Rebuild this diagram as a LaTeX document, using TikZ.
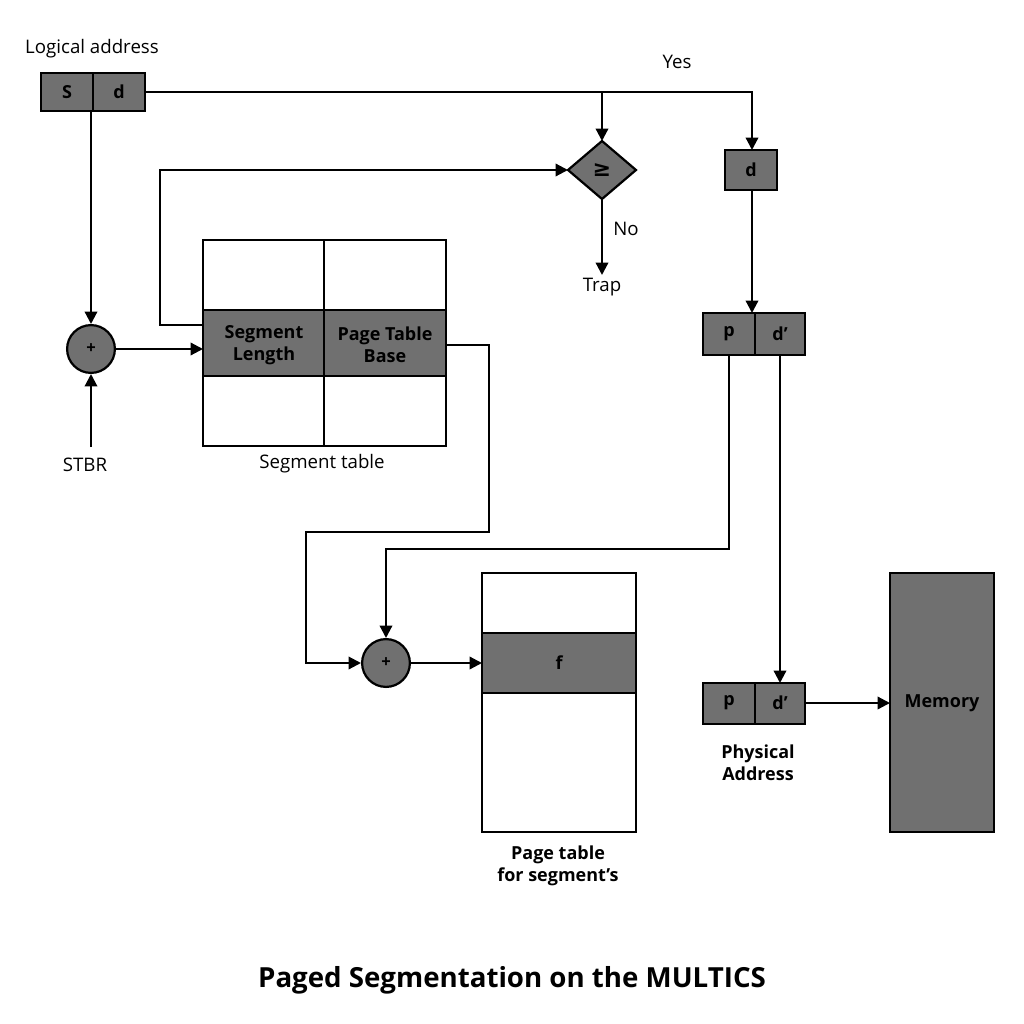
\documentclass[tikz,border=0pt]{standalone}
\usepackage{fontspec}
\setmainfont{Open Sans}
\newfontfamily\symfont{DejaVu Sans}
\usetikzlibrary{shapes.geometric,arrows.meta}
\begin{document}
\begin{tikzpicture}[x=0.0254cm,y=-0.0254cm,
  line width=1.6pt,
  g/.style={fill=black!56,draw=black,line width=1.6pt},
  cell/.style={draw=black,line width=1.6pt},
  arr/.style={-{Triangle[length=9pt,width=9pt]}},
  lbl/.style={font=\fontsize{13.5pt}{15pt}\selectfont},
  bl/.style={font=\fontsize{13pt}{16pt}\selectfont\bfseries,align=center}]
\useasboundingbox (0,0) rectangle (1024,1024);
% logical address
\node[lbl] (la) at (92,49) {Logical address};
\draw[g] (41,73) rectangle (93,111);
\draw[g] (93,73) rectangle (145,111);
\node[bl] (S) at (67,92) {S};
\node[bl] (d0) at (119,92) {d};
\coordinate (dR) at (145,92);
\coordinate (sB) at (91,111);
\node[lbl] (yes) at (677,62) {Yes};
% diamond
\coordinate (diaN) at (602,141);
\coordinate (diaS) at (602,199);
\coordinate (diaW) at (568,170);
\draw[g] (diaW)--(diaN)--(636,170)--(diaS)--cycle;
\node[font=\symfont\bfseries\fontsize{16pt}{18pt}\selectfont] (ge) at (602,170) {≥};
% d box
\draw[g] (725,150) rectangle (777,190);
\node[bl] (d1) at (751,170) {d};
\draw[arr] (dR) -- (752,92) -- (752,150);
\draw[arr] (602,92) -- (diaN);
% p d'
\draw[g] (703,313) rectangle (755,355);
\draw[g] (755,313) rectangle (805,355);
\node[bl] (p1) at (729,334) {p};
\node[bl] (dp1) at (780,334) {d’};
\draw[arr] (752,190) -- (752,313);
% trap
\draw[arr] (diaS) -- (602,275);
\node[lbl] (no) at (626,229) {No};
\node[lbl] (trap) at (602,287) {Trap};
% segment table
\draw[g] (203,310) rectangle (446,376);
\draw[cell] (203,240) rectangle (446,446);
\draw[cell] (324,240) -- (324,446);
\node[bl] (sl) at (264,345) {Segment\\Length};
\node[bl] (ptb) at (385,345) {Page Table\\Base};
\node[lbl] (stl) at (322,464) {Segment table};
\draw[arr] (203,325) -- (160,325) -- (160,170) -- (diaW);
% plus 1
\node[circle,g,minimum size=48pt*0.72,inner sep=0,font=\large\bfseries] (c1) at (91,349) {+};
\draw[arr] (sB) -- (c1.north);
\node[lbl] (stbr) at (85,465) {STBR};
\draw[arr] (91,447) -- (c1.south);
\draw[arr] (c1.east) -- (203,349);
% page table
\draw[cell] (482,573) rectangle (636,832);
\draw[g] (482,633) rectangle (636,693);
\node[bl] (f) at (559,663) {f};
\node[bl] (ptl) at (558,866) {Page table\\for segment’s};
% plus 2
\node[circle,g,minimum size=48pt*0.72,inner sep=0,font=\large\bfseries] (c2) at (386,663) {+};
\draw[arr] (446,345) -- (489,345) -- (489,532) -- (306,532) -- (306,663) -- (c2.west);
\draw[arr] (729,355) -- (729,549) -- (386,549) -- (c2.north);
\draw[arr] (c2.east) -- (482,663);
% physical address
\draw[g] (703,683) rectangle (755,724);
\draw[g] (755,683) rectangle (805,724);
\node[bl] (p2) at (729,703) {p};
\node[bl] (dp2) at (780,703) {d’};
\draw[arr] (780,355) -- (780,683);
\node[bl] (pa) at (758,763) {Physical\\Address};
% memory
\draw[g] (890,573) rectangle (994,832);
\node[bl] (mem) at (942,703) {Memory};
\draw[arr] (805,703) -- (890,703);
% title
\node[font=\fontsize{20pt}{24pt}\selectfont\bfseries] (title) at (512,980) {Paged Segmentation on the MULTICS};
\end{tikzpicture}
\end{document}
